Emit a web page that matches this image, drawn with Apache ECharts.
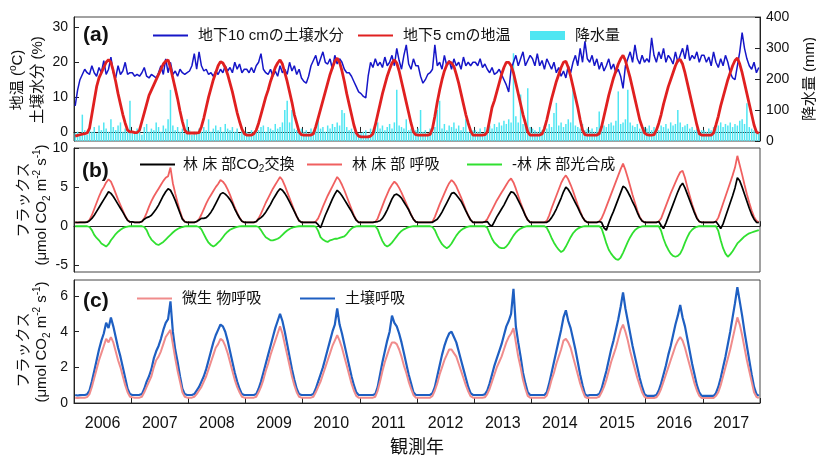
<!DOCTYPE html>
<html><head><meta charset="utf-8">
<script src="https://cdn.jsdelivr.net/npm/echarts@6/dist/echarts.min.js"></script>
<style>html,body{margin:0;padding:0;background:#fff}#c{width:816px;height:458px}</style>
</head><body><div id="c"></div>
<script>
// ---- data (semi-monthly values, 24 per year, 2006..2017) ----
const years = ['2006','2007','2008','2009','2010','2011','2012','2013','2014','2015','2016','2017'];
const tempTicks = [0,10,20,30];
const precipTicks = [0,100,200,300,400];
const fluxBTicks = [-5,0,5,10];
const fluxCTicks = [0,2,4,6];

// soil moisture at 10 cm (%)
const soilMoisture = [
[7.5,12,15,16.5,18,17,16.5,19,17,16,18.5,17,20.5,16.5,18,21.5,17,15.5,19,16.5,17.5,20,16.5,17],
[17,16,16.5,16,17,18.5,16,15.5,16.5,16,15.5,17,19,16.5,21,17,20,16.5,17.5,16,18,17,16.5,17],
[17.5,19,22.5,18,23,19,17.5,18,16.5,17,16,17.5,16.5,18,17,19,17.5,18.5,17,20,18,19.5,17,18],
[18,17,18.5,17,19,20,22.5,18,17,16.5,18,16,17.5,16,19,17,18,16.5,20,17.5,19,16.5,18,15.5],
[14.5,14,16,19,20.5,22,19,21,23,20,19.5,21,18,22,19.5,21,20,18,17,17,16,14.5,13,11.5],
[11,10.2,9.8,16,20,18.5,21,19,20,18.5,21.5,19,20,22,19,24,20.5,18,22,25,19.5,18,21,19],
[19,16,14,15,16.5,17,18,25,19,20,18,22,19,20.5,18,21,19,20,18,21.5,19,20,19,20],
[20,19,21,18.5,19.5,18,17,18.5,16.5,17,18,16.5,15,13.5,11.5,18,20,22,19,21,23,19,20.5,22],
[21,19,22.5,19,20.5,18,21,19.5,18,20,17,18.5,16,17.5,15.5,19,17,20,22,19,24,20,26,21],
[20,22,19,21,18,20,17.5,19,21,18,19.5,17,18,16,12.5,19,21,23,20,25,21,19.5,22,20],
[21,20,27,22,20,23,21,24,20,22,21,19.5,23,20,22,24,21,25,20.5,22,21,23,20,22],
[22,20,21.5,19,23,20,18.5,21,19,22,20,17,15.5,15,19,23,28.5,24,21,19,18,20,17,18.5]
];
// soil temperature at 5 cm (degC)
const soilTemp = [
[-1.2,-1,-0.8,-0.6,-0.5,-0.3,1,5,9,13,15.5,17,18.5,20,20.7,20,17.5,14.5,11,8,5,2.5,0.5,0],
[0,-0.2,-0.2,0.5,3,5.5,8,10.5,12,13.5,15,16.5,18,19.5,20.3,20.7,18.5,15.5,12.5,9.5,6,3,0.5,-0.3],
[-0.3,-0.3,-0.3,-0.3,-0.2,1.5,4,7,10,12.5,15,17,19,20.2,19.8,18.5,16.5,14,11.5,8.5,5.5,3,0.8,-0.5],
[-0.9,-0.9,-0.9,-0.5,0.5,2.5,5,7.5,10,12,14.5,16.5,18.5,19.8,20.7,19.5,17,14.5,11.5,8.5,5,2.5,0,-0.8],
[-0.9,-0.9,-0.9,-0.9,-0.5,1.5,4,6.5,9,11.5,14,16.5,18.5,20.3,21.2,20,17.5,14.5,11,8,5,2,-0.3,-1.2],
[-1.4,-1.4,-1.4,-1.4,-1.2,-0.5,2,5,8,11,13.5,16,18,19.8,20.7,19.8,17.5,14.5,11.5,8.5,5.5,2.5,0,-0.8],
[-0.9,-0.9,-0.9,-0.9,-0.9,-0.7,1,4.5,8.5,12,15,17.5,19.2,20.2,19.8,18.8,16.5,14,11,8,5,2.5,0.3,-0.9],
[-0.9,-0.9,-0.9,-0.9,-0.8,0,3.5,7,9,11.5,14,16.5,18.5,20,20,19,17,14,11,8,5,2.5,0,-0.9],
[-0.9,-0.9,-0.9,-0.9,-0.6,1,3.5,6.5,9.5,12,14.5,16.5,18.5,20,20.3,18.5,16,13,10,7,3.5,0.5,-0.8,-0.9],
[-0.9,-0.9,-0.9,-0.9,-0.5,1.5,4.5,7.5,10.5,13,15.5,17.5,19.5,21,22,20.5,18,15.5,12.5,9.5,6.5,3.5,1.5,-0.3],
[-0.8,-0.9,-0.9,-0.8,0.5,2.5,5,8,10.5,13,15,17,19,20.5,20.8,19.5,17,14,11,8,5,2,-0.5,-0.9],
[-0.9,-0.9,-0.9,-0.9,-0.3,2,4.5,7.5,10,12.5,15,17,19,20.5,21.2,19.5,17,14,11,8,5,2,0,-0.4]
];
// precipitation (mm)
const precip = [
[25,30,20,85,35,20,40,30,45,25,50,35,60,40,30,70,45,35,50,60,30,40,35,130],
[30,25,40,35,20,45,55,30,40,35,60,45,30,50,40,70,165,50,35,45,30,40,25,70],
[35,20,30,25,40,30,45,35,70,30,40,50,35,45,30,55,40,35,45,30,40,25,35,30],
[30,25,35,30,40,35,45,50,30,45,40,35,55,40,45,60,100,130,60,100,40,35,30,40],
[30,35,25,40,30,35,70,40,45,30,50,40,55,45,60,50,100,90,45,35,40,30,35,25],
[25,30,35,20,40,30,45,60,40,50,35,45,55,40,60,165,50,45,40,70,35,40,30,35],
[40,100,30,35,25,40,35,45,100,130,40,55,35,50,45,60,40,50,35,45,70,30,40,35],
[35,30,40,25,45,35,50,40,55,45,60,50,65,55,70,60,283,80,60,150,55,70,170,45],
[40,35,30,45,35,50,40,55,45,90,123,50,60,45,55,70,60,165,50,45,40,55,35,40],
[35,40,30,45,95,40,50,45,55,60,50,65,160,55,60,70,165,60,50,45,55,40,35,45],
[40,50,35,45,40,35,50,45,55,40,60,50,55,100,60,45,50,55,40,45,35,40,30,35],
[35,30,40,35,45,40,50,60,45,55,50,60,45,55,50,65,70,55,122,45,40,35,30,25]
];
// forest-floor CO2 exchange
const floorNEE = [
[0.5,0.48,0.5,0.5,0.5,0.52,0.7,1.0,1.4,1.9,2.4,2.9,3.4,3.9,4.4,4.2,3.8,3.3,2.8,2.3,1.8,1.25,0.75,0.55],
[0.55,0.5,0.5,0.5,0.6,0.9,1.1,1.2,1.4,1.8,2.2,2.7,3.3,3.9,4.4,4.8,4.6,4.0,3.3,2.5,1.7,0.9,0.57,0.5],
[0.5,0.5,0.5,0.6,0.8,1.0,1.0,1.1,1.4,1.8,2.3,2.9,3.5,4.1,4.3,4.1,3.8,3.4,2.9,2.2,1.6,1.05,0.65,0.5],
[0.5,0.5,0.5,0.5,0.6,0.9,1.1,1.4,1.8,2.3,2.8,3.4,3.9,4.4,4.8,4.6,4.2,3.7,3.1,2.5,1.9,1.25,0.7,0.5],
[0.5,0.5,0.5,0.5,0.5,0.5,0.2,-0.2,0.6,1.4,2.1,2.8,3.5,4.1,4.6,4.3,3.9,3.4,2.9,2.4,1.9,1.3,0.77,0.5],
[0.5,0.5,0.5,0.5,0.5,0.5,0.55,0.6,0.7,1.0,1.5,2.1,2.8,3.5,4.0,4.1,3.9,3.6,3.1,2.6,2.1,1.45,0.9,0.55],
[0.5,0.5,0.5,0.5,0.5,0.5,0.5,0.7,0.9,1.3,1.8,2.4,3.0,3.6,4.2,4.3,4.0,3.6,3.2,2.6,1.95,1.35,0.8,0.5],
[0.5,0.5,0.5,0.5,0.55,0.6,0.2,0.0,0.6,1.2,1.7,2.2,2.7,3.3,3.9,4.4,4.3,3.9,3.3,2.7,2.05,1.35,0.8,0.5],
[0.5,0.5,0.5,0.5,0.5,0.5,0.5,0.7,1.1,1.6,2.2,2.9,3.6,4.4,5.0,4.7,4.2,3.6,3.0,2.4,1.75,1.15,0.7,0.5],
[0.5,0.5,0.5,0.5,0.6,0.5,-0.2,-0.5,0.4,1.2,1.9,2.7,3.5,4.3,5.1,4.9,4.4,3.8,3.1,2.5,1.75,1.1,0.67,0.5],
[0.5,0.5,0.5,0.5,0.5,0.6,0.1,-0.3,0.4,1.2,2.0,2.8,3.6,4.4,5.1,5.5,4.9,4.1,3.3,2.5,1.7,1.0,0.6,0.5],
[0.5,0.5,0.5,0.5,0.5,0.6,0.2,-0.3,0.3,1.2,2.1,3.0,3.9,4.9,6.2,5.8,5.0,4.1,3.2,2.3,1.5,0.9,0.5,0.45]
];
// forest-floor respiration
const floorResp = [
[0.5,0.48,0.5,0.5,0.5,0.52,0.8,1.4,2.2,3.0,3.8,4.5,5.0,5.6,6.0,5.7,5.0,4.2,3.4,2.7,2.0,1.3,0.8,0.55],
[0.55,0.5,0.5,0.5,0.6,1.0,1.7,2.5,3.2,3.8,4.3,4.8,5.3,5.8,6.2,6.4,7.5,5.5,4.2,3.0,1.9,1.0,0.6,0.5],
[0.5,0.5,0.5,0.6,0.9,1.5,2.2,2.9,3.5,4.0,4.5,5.0,5.4,5.9,5.7,5.3,4.7,4.0,3.2,2.4,1.7,1.1,0.65,0.5],
[0.5,0.5,0.5,0.5,0.6,1.0,1.6,2.3,3.0,3.6,4.2,4.8,5.3,5.8,6.3,5.9,5.2,4.4,3.6,2.8,2.0,1.3,0.7,0.5],
[0.5,0.5,0.5,0.5,0.5,0.6,1.0,1.7,2.5,3.2,3.9,4.5,5.1,5.7,6.3,5.9,5.3,4.6,3.8,3.0,2.2,1.4,0.8,0.5],
[0.5,0.5,0.5,0.5,0.5,0.5,0.55,1.0,1.8,2.6,3.4,4.1,4.8,5.3,5.7,5.4,4.9,4.3,3.6,2.9,2.2,1.5,0.9,0.55],
[0.5,0.5,0.5,0.5,0.5,0.5,0.6,1.2,2.0,2.8,3.5,4.2,4.9,5.5,5.9,5.6,5.1,4.4,3.7,2.9,2.1,1.4,0.8,0.5],
[0.5,0.5,0.5,0.5,0.55,0.9,1.5,2.1,2.7,3.3,3.8,4.3,4.8,5.3,5.8,6.1,5.6,4.8,3.9,3.0,2.2,1.4,0.8,0.5],
[0.5,0.5,0.5,0.5,0.5,0.5,0.7,1.4,2.3,3.1,3.9,4.7,5.5,6.1,6.5,6.0,5.3,4.5,3.6,2.7,1.9,1.2,0.7,0.5],
[0.5,0.5,0.5,0.5,0.6,1.0,1.7,2.5,3.3,4.1,4.9,5.7,6.5,7.3,8.0,7.2,6.2,5.1,4.0,3.0,2.0,1.2,0.7,0.5],
[0.5,0.5,0.5,0.5,0.5,0.6,1.0,1.8,2.6,3.4,4.2,4.9,5.6,6.3,6.9,7.1,6.2,5.0,3.9,2.8,1.9,1.1,0.6,0.5],
[0.5,0.5,0.5,0.5,0.5,0.6,1.1,2.0,2.9,3.8,4.7,5.6,6.5,7.5,9.0,7.8,6.6,5.3,4.1,3.0,2.0,1.2,0.7,0.5]
];
// minus forest-floor photosynthesis
const floorPhoto = [
[0,0,0,0,0,0,-0.1,-0.5,-1.1,-1.5,-1.8,-2.2,-2.4,-2.6,-2.3,-1.8,-1.4,-1.0,-0.7,-0.45,-0.25,-0.12,-0.05,0],
[0,0,0,0,0,-0.1,-0.5,-1.2,-1.7,-2.0,-2.3,-2.4,-2.2,-2.0,-1.7,-1.4,-1.1,-0.8,-0.55,-0.35,-0.2,-0.1,-0.03,0],
[0,0,0,0,-0.1,-0.4,-1.0,-1.6,-2.1,-2.4,-2.6,-2.4,-2.1,-1.8,-1.4,-1.0,-0.7,-0.45,-0.3,-0.18,-0.08,-0.03,0,0],
[0,0,0,0,0,-0.1,-0.5,-1.0,-1.4,-1.6,-1.8,-1.8,-1.7,-1.6,-1.4,-1.1,-0.8,-0.55,-0.35,-0.2,-0.1,-0.04,0,0],
[0,0,0,0,0,-0.05,-0.6,-1.4,-1.7,-1.9,-2.0,-1.8,-1.7,-1.6,-1.6,-1.5,-1.4,-1.3,-1.0,-0.6,-0.3,-0.1,-0.03,0],
[0,0,0,0,0,0,0,-0.4,-1.2,-1.9,-2.4,-2.6,-2.4,-2.1,-1.7,-1.3,-0.9,-0.6,-0.4,-0.25,-0.12,-0.05,0,0],
[0,0,0,0,0,0,-0.1,-0.5,-1.2,-1.8,-2.3,-2.6,-2.8,-2.6,-2.2,-1.7,-1.2,-0.8,-0.5,-0.3,-0.15,-0.05,0,0],
[0,0,0,0,0,-0.2,-0.9,-1.6,-2.1,-2.4,-2.7,-2.8,-2.8,-2.6,-2.2,-1.7,-1.2,-0.8,-0.5,-0.3,-0.15,-0.05,0,0],
[0,0,0,0,0,0,-0.2,-0.8,-1.5,-2.1,-2.6,-3.0,-3.3,-3.1,-2.6,-2.0,-1.4,-0.9,-0.55,-0.3,-0.15,-0.05,0,0],
[0,0,0,0,0,-0.3,-1.2,-2.2,-3.0,-3.5,-3.9,-4.2,-4.3,-4.0,-3.4,-2.7,-2.0,-1.4,-0.9,-0.5,-0.25,-0.1,-0.03,0],
[0,0,0,0,0,0,-0.6,-1.6,-2.4,-3.0,-3.5,-3.8,-3.9,-3.8,-3.5,-2.9,-2.1,-1.4,-0.8,-0.45,-0.2,-0.07,0,0],
[0,0,0,0,0,0,-0.6,-1.8,-2.8,-3.5,-3.9,-3.6,-3.2,-2.7,-2.2,-1.9,-1.6,-1.3,-1.1,-0.9,-0.8,-0.7,-0.6,-0.5]
];
// soil respiration
const soilResp = [
[0.45,0.42,0.44,0.45,0.45,0.48,0.7,1.2,1.8,2.4,3.0,3.5,3.9,4.5,4.2,4.8,4.3,3.7,3.1,2.6,2.0,1.4,0.8,0.5],
[0.45,0.45,0.45,0.46,0.5,0.8,1.2,1.5,1.9,2.5,2.9,3.2,3.6,4.1,4.5,4.7,5.7,4.0,3.0,2.3,1.5,0.8,0.5,0.45],
[0.45,0.45,0.5,0.7,0.9,1.2,1.5,1.9,2.4,2.9,3.4,3.8,4.1,4.4,4.3,4.0,3.5,2.9,2.3,1.7,1.2,0.8,0.5,0.45],
[0.45,0.45,0.45,0.45,0.5,0.8,1.2,1.7,2.2,2.7,3.2,3.7,4.2,4.6,5.0,4.6,4.0,3.3,2.6,1.9,1.3,0.8,0.5,0.45],
[0.45,0.45,0.45,0.45,0.5,0.8,1.2,1.6,2.0,2.5,3.0,3.5,4.0,4.4,5.3,4.4,3.9,3.3,2.7,2.1,1.5,1.0,0.6,0.45],
[0.45,0.45,0.45,0.45,0.45,0.45,0.5,0.9,1.6,2.3,2.9,3.5,4.0,4.9,4.5,4.3,3.9,3.4,2.8,2.2,1.6,1.1,0.6,0.45],
[0.45,0.45,0.45,0.45,0.45,0.45,0.55,0.9,1.5,2.1,2.7,3.2,3.6,3.9,4.0,3.7,3.4,2.9,2.4,1.9,1.4,0.9,0.55,0.45],
[0.45,0.45,0.45,0.45,0.48,0.7,1.1,1.6,2.1,2.5,2.9,3.3,3.8,4.3,4.6,5.0,6.4,4.3,3.4,2.6,1.7,1.1,0.6,0.45],
[0.45,0.45,0.45,0.45,0.45,0.45,0.6,1.1,1.7,2.3,2.9,3.5,4.1,4.8,5.2,4.6,4.2,3.6,3.0,2.3,1.6,1.0,0.5,0.4],
[0.45,0.45,0.45,0.45,0.5,0.8,1.3,1.8,2.4,3.0,3.5,4.1,4.7,5.4,6.2,5.3,4.6,3.9,3.2,2.6,2.0,1.4,0.9,0.5],
[0.4,0.4,0.4,0.4,0.45,0.7,1.1,1.6,2.1,2.7,3.2,3.8,4.4,4.9,5.5,4.8,4.3,3.6,2.9,2.2,1.6,1.0,0.6,0.4],
[0.4,0.4,0.4,0.4,0.4,0.55,0.9,1.4,2.0,2.6,3.3,4.0,4.8,5.6,6.5,5.7,4.9,4.0,3.2,2.4,1.6,0.9,0.5,0.4]
];
// microbial respiration
const microResp = [
[0.3,0.28,0.3,0.3,0.3,0.33,0.5,0.9,1.4,1.9,2.4,2.8,3.2,3.6,3.4,3.7,3.4,2.9,2.4,2.0,1.5,1.0,0.6,0.35],
[0.32,0.3,0.3,0.3,0.35,0.6,0.9,1.2,1.5,2.0,2.4,2.6,2.9,3.3,3.7,3.9,4.1,3.3,2.5,1.8,1.2,0.6,0.35,0.3],
[0.3,0.3,0.35,0.5,0.7,0.9,1.2,1.5,1.9,2.3,2.7,3.1,3.3,3.6,3.5,3.2,2.8,2.3,1.8,1.3,0.9,0.6,0.35,0.3],
[0.3,0.3,0.3,0.3,0.35,0.6,0.9,1.3,1.8,2.2,2.7,3.1,3.5,3.9,4.3,3.9,3.3,2.7,2.1,1.5,1.0,0.6,0.35,0.3],
[0.3,0.3,0.3,0.3,0.35,0.6,0.9,1.2,1.6,2.0,2.4,2.8,3.2,3.5,3.8,3.5,3.1,2.6,2.1,1.6,1.1,0.7,0.4,0.3],
[0.3,0.3,0.3,0.3,0.3,0.3,0.35,0.7,1.2,1.8,2.3,2.7,3.1,3.4,3.4,3.3,3.0,2.6,2.1,1.7,1.2,0.8,0.45,0.3],
[0.3,0.3,0.3,0.3,0.3,0.3,0.4,0.7,1.1,1.6,2.0,2.4,2.7,3.0,3.0,2.8,2.6,2.2,1.8,1.4,1.0,0.65,0.38,0.3],
[0.3,0.3,0.3,0.3,0.32,0.5,0.8,1.2,1.6,2.0,2.3,2.6,3.0,3.4,3.7,3.9,4.2,3.4,2.6,2.0,1.3,0.8,0.4,0.3],
[0.3,0.3,0.3,0.3,0.3,0.3,0.42,0.8,1.3,1.7,2.2,2.6,3.0,3.5,3.6,3.4,3.1,2.6,2.1,1.6,1.1,0.7,0.35,0.28],
[0.3,0.3,0.3,0.3,0.35,0.6,0.9,1.3,1.8,2.3,2.7,3.1,3.6,4.1,4.4,4.0,3.5,2.9,2.4,1.9,1.4,1.0,0.6,0.35],
[0.28,0.28,0.28,0.28,0.32,0.5,0.8,1.2,1.6,2.0,2.4,2.8,3.2,3.5,3.7,3.5,3.1,2.6,2.1,1.6,1.1,0.7,0.4,0.28],
[0.28,0.28,0.28,0.28,0.28,0.4,0.6,1.0,1.5,2.0,2.5,3.0,3.6,4.2,4.8,4.4,3.8,3.1,2.4,1.8,1.2,0.6,0.35,0.28]
];

// ---- build ----
const FONT = '"Liberation Sans", Arial, "Noto Sans CJK JP", sans-serif';
const START = +years[0];
function toPairs(arr){ const out=[]; arr.forEach((yr,i)=>yr.forEach((v,k)=>out.push([START+i+(k+0.5)/yr.length, v]))); return out; }

const chart = echarts.init(document.getElementById('c'), null, {renderer:'canvas'});
const G = [{top:17,h:124},{top:148,h:124},{top:280,h:123}];
const grids = G.map(g=>({left:74,right:56,top:g.top,height:g.h,show:true,borderColor:'#444',borderWidth:1,
  backgroundColor:'transparent', containLabel:false, outerBoundsMode:'none'}));

function catAxis(i, showLabel){
  return {type:'category', gridIndex:i, data:years, boundaryGap:true, position:'bottom',
    axisLine:{show:true,lineStyle:{color:'#222',width:1}},
    axisTick:{show:true,inside:true,length:5,lineStyle:{color:'#222'}},
    axisLabel:{show:showLabel,fontSize:16,color:'#111',fontFamily:FONT,margin:13},
    splitLine:{show:false},
    name: showLabel ? '観測年' : '', nameLocation:'middle', nameGap:36,
    nameTextStyle:{fontSize:18,color:'#111',fontFamily:FONT}};
}
function valX(i){ return {type:'value', gridIndex:i, min:START, max:START+years.length, show:false}; }
function yAx(i, min, max, ticks, pos){
  return {type:'value', gridIndex:i, min:min, max:max, position:pos||'left',
    axisLine:{show:true,lineStyle:{color:'#222'}},
    axisTick:{show:true,inside:true,length:5,customValues:ticks,lineStyle:{color:'#222'}},
    axisLabel:{fontSize:14,color:'#111',fontFamily:FONT,margin:6,customValues:ticks},
    splitLine:{show:false}};
}
const yRight = yAx(0, 0, 400, precipTicks, 'right');
yRight.name = '降水量 (mm)'; yRight.nameLocation='middle'; yRight.nameRotate=90; yRight.nameGap=42;
yRight.nameTextStyle={fontSize:15,color:'#111',fontFamily:FONT};

function line(name, data, xi, yi, color, w, z){
  return {type:'line', name:name, data:toPairs(data), xAxisIndex:xi, yAxisIndex:yi,
    showSymbol:false, symbol:'none', lineStyle:{color:color,width:w}, itemStyle:{color:color}, z:z||2, animation:false};
}
const leg = (name, left, top, h, extra)=>Object.assign({data:[name], left:left, top:top, icon:'rect', itemWidth:35, itemHeight:h,
  selectedMode:false, textStyle:{fontSize:15,color:'#111',fontFamily:FONT,padding:[0,0,0,5]}}, extra||{});

const sub = {fontSize:10, fontFamily:FONT, color:'#111', verticalAlign:'bottom', lineHeight:12};
const sup = {fontSize:10, fontFamily:FONT, color:'#111', verticalAlign:'top', lineHeight:12};
const norm = {fontSize:15, fontFamily:FONT, color:'#111', lineHeight:20};

const fluxTitle = '{a|(μmol CO}{b|2}{a| m}{c|-2}{a| s}{c|-1}{a|)}';
function vtext(x, y, text){
  return {type:'text', x:x, y:y, rotation:Math.PI/2, z:10,
    style:{text:text, align:'center', verticalAlign:'middle', fill:'#111', font:'15px '+FONT,
      rich:{a:norm, b:sub, c:sup}}};
}
function label(x,y,t){ return {type:'text', x:x, y:y, z:10, style:{text:t, fill:'#111', font:'bold 21px '+FONT, align:'left', verticalAlign:'middle'}}; }

const option = {
  animation:false,
  backgroundColor:'#fff',
  textStyle:{fontFamily:FONT},
  grid:grids,
  xAxis:[catAxis(0,false),catAxis(1,false),catAxis(2,true),valX(0),valX(1),valX(2)],
  yAxis:[yAx(0,-2.6,33,tempTicks), yRight, yAx(1,-5.85,10,fluxBTicks), yAx(2,0,6.9,fluxCTicks)],
  legend:[
    leg('地下10 cmの土壌水分',148,23,2),
    leg('地下5 cmの地温',353,23,2),
    leg('降水量',525,23,9),
    leg('林 床 部CO2交換',135,152,2,{formatter:()=>'{a|林 床 部CO}{b|2}{a|交換}', textStyle:{fontSize:15,color:'#111',fontFamily:FONT,padding:[0,0,0,3],rich:{a:norm,b:sub}}}),
    leg('林 床 部 呼吸',302,152,2),
    leg('-林 床 部光合成',462,152,2),
    leg('微生 物呼吸',132,286,2),
    leg('土壌呼吸',295,286,2)
  ],
  graphic:[
    {type:'text', x:18, y:80, rotation:Math.PI/2, z:10,
      style:{text:'{a|地温 (}{c|o}{a|C)}', align:'center', verticalAlign:'middle', fill:'#111', font:'15px '+FONT, rich:{a:norm,c:sup}}},
    {type:'text', x:38, y:80, rotation:Math.PI/2, z:10,
      style:{text:'土壌水分 (%)', align:'center', verticalAlign:'middle', fill:'#111', font:'15px '+FONT}},
    {type:'text', x:24, y:200, rotation:Math.PI/2, z:10,
      style:{text:'フラックス', align:'center', verticalAlign:'middle', fill:'#111', font:'15px '+FONT}},
    vtext(42, 205, fluxTitle),
    {type:'text', x:24, y:350, rotation:Math.PI/2, z:10,
      style:{text:'フラックス', align:'center', verticalAlign:'middle', fill:'#111', font:'15px '+FONT}},
    vtext(42, 342, fluxTitle),
    label(83,35,'(a)'), label(82,171,'(b)'), label(83,301,'(c)')
  ],
  series:[
    {type:'bar', name:'降水量', data:toPairs(precip), xAxisIndex:3, yAxisIndex:1, barWidth:1.5,
      itemStyle:{color:'#4fe6f2'}, z:1, animation:false},
    line('地下10 cmの土壌水分', soilMoisture, 3, 0, '#1616c8', 1.5, 2),
    line('地下5 cmの地温', soilTemp, 3, 0, '#e02020', 2.8, 3),
    line('林 床 部 呼吸', floorResp, 4, 2, '#f06060', 1.8, 2),
    line('林 床 部CO2交換', floorNEE, 4, 2, '#000000', 1.7, 3),
    line('-林 床 部光合成', floorPhoto, 4, 2, '#30e030', 1.8, 3),
    line('土壌呼吸', soilResp, 5, 3, '#1e5fc2', 2.2, 2),
    line('微生 物呼吸', microResp, 5, 3, '#f08c8c', 2, 3)
  ]
};
chart.setOption(option);
</script></body></html>
